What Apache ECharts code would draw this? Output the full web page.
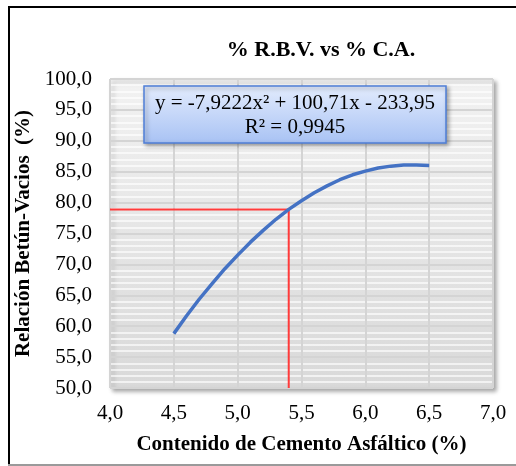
<!DOCTYPE html>
<html>
<head>
<meta charset="utf-8">
<script src="https://cdn.jsdelivr.net/npm/echarts@6/dist/echarts.min.js"></script>
<style>
  html, body { margin: 0; padding: 0; background: #ffffff; }
  #chart { width: 516px; height: 466px; }
</style>
</head>
<body>
<div id="chart"></div>
<script>
// Trend curve of % R.B.V. against asphalt cement content
const asphaltContent = [4.5, 4.6, 4.7, 4.8, 4.9, 5.0, 5.1, 5.2, 5.3, 5.4, 5.5,
                        5.6, 5.7, 5.8, 5.9, 6.0, 6.1, 6.2, 6.3, 6.4, 6.5];
const rbvValues      = [58.8, 61.7, 64.4, 66.9, 69.3, 71.5, 73.6, 75.5, 77.3, 78.9, 80.3,
                        81.6, 82.7, 83.7, 84.5, 85.1, 85.6, 85.9, 86.1, 86.1, 86.0];

// Design point read on the curve (guide lines)
const designContent = 5.4;
const designRbv = 78.9;

const xTicks = { min: 4.0, max: 7.0, step: 0.5 };
const yTicks = { min: 50.0, max: 100.0, step: 5.0 };

const titleText = '% R.B.V. vs % C.A.';
const equationLines = ['y = -7,9222x² + 100,71x - 233,95', 'R² = 0,9945'];
const xName = 'Contenido de Cemento Asfáltico (%)';
const yName = 'Relación Betún-Vacios  (%)';

const serif = '"Liberation Serif", "Times New Roman", serif';
const fmt = v => v.toFixed(1).replace('.', ',');

const chart = echarts.init(document.getElementById('chart'), null, { renderer: 'canvas' });

chart.setOption({
  animation: false,
  backgroundColor: '#ffffff',
  title: {
    text: titleText,
    left: 316, top: 34, textAlign: 'center',
    textStyle: { fontFamily: serif, fontWeight: 'bold', fontSize: 22, color: '#000' }
  },
  grid: {
    left: 110, right: 23, top: 79, bottom: 78,
    show: true,
    backgroundColor: new echarts.graphic.LinearGradient(0, 0, 0, 1, [
      { offset: 0, color: '#f2f2f2' },
      { offset: 1, color: '#d9d9d9' }
    ]),
    borderColor: '#b5b5b5', borderWidth: 1,
    shadowColor: 'rgba(0,0,0,0.35)', shadowBlur: 4, shadowOffsetX: 3, shadowOffsetY: 3
  },
  xAxis: {
    type: 'value',
    min: xTicks.min, max: xTicks.max, interval: xTicks.step,
    name: xName, nameLocation: 'middle', nameGap: 46,
    nameTextStyle: { fontFamily: serif, fontWeight: 'bold', fontSize: 21, color: '#000' },
    axisLine: { show: false },
    axisTick: { show: false },
    axisLabel: { formatter: fmt, margin: 15, fontFamily: serif, fontSize: 21, color: '#000' },
    splitLine: { show: true, lineStyle: { color: '#d4d4d4', width: 2 } }
  },
  yAxis: {
    type: 'value',
    min: yTicks.min, max: yTicks.max, interval: yTicks.step,
    name: yName, nameLocation: 'middle', nameGap: 73,
    nameTextStyle: { fontFamily: serif, fontWeight: 'bold', fontSize: 21, color: '#000' },
    axisLine: { show: false },
    axisTick: { show: false },
    axisLabel: { formatter: fmt, margin: 18, fontFamily: serif, fontSize: 21, color: '#000' },
    splitLine: { show: true, lineStyle: { color: '#d4d4d4', width: 2 } },
    minorTick: { show: false, splitNumber: 5 },
    minorSplitLine: { show: true, lineStyle: { color: 'rgba(255,255,255,0.85)', width: 1.5 } }
  },
  series: [
    {
      type: 'line',
      data: [[xTicks.min, designRbv], [designContent, designRbv], [designContent, yTicks.min]],
      symbol: 'none',
      lineStyle: { color: '#ff3b3b', width: 2 },
      z: 3
    },
    {
      type: 'line',
      data: asphaltContent.map((x, i) => [x, rbvValues[i]]),
      symbol: 'none',
      lineStyle: { color: '#4472c4', width: 3.5, cap: 'butt', join: 'round' },
      z: 4
    }
  ],
  graphic: [
    // chart frame
    { type: 'rect', z: 100, shape: { x: 8, y: 6, width: 520, height: 2 }, style: { fill: '#000' }, silent: true },
    { type: 'rect', z: 100, shape: { x: 8, y: 6, width: 2, height: 460 }, style: { fill: '#000' }, silent: true },
    { type: 'rect', z: 100, shape: { x: 8, y: 464, width: 520, height: 2 }, style: { fill: '#9a9a9a' }, silent: true },
    // equation box
    {
      type: 'rect', z: 100,
      shape: { x: 144, y: 86, width: 302, height: 57 },
      style: {
        fill: new echarts.graphic.LinearGradient(0, 0, 0, 1, [
          { offset: 0, color: '#e3ecfd' },
          { offset: 1, color: '#a8c2f4' }
        ]),
        stroke: '#4f7fd8', lineWidth: 1.5,
        shadowColor: 'rgba(0,0,0,0.35)', shadowBlur: 4, shadowOffsetX: 2, shadowOffsetY: 2
      }
    },
    {
      type: 'text', z: 101,
      style: {
        x: 295, y: 115,
        text: equationLines.join('\n'),
        align: 'center', verticalAlign: 'middle',
        fontFamily: serif, fontSize: 21, lineHeight: 24, fill: '#000'
      }
    }
  ]
});
</script>
</body>
</html>
